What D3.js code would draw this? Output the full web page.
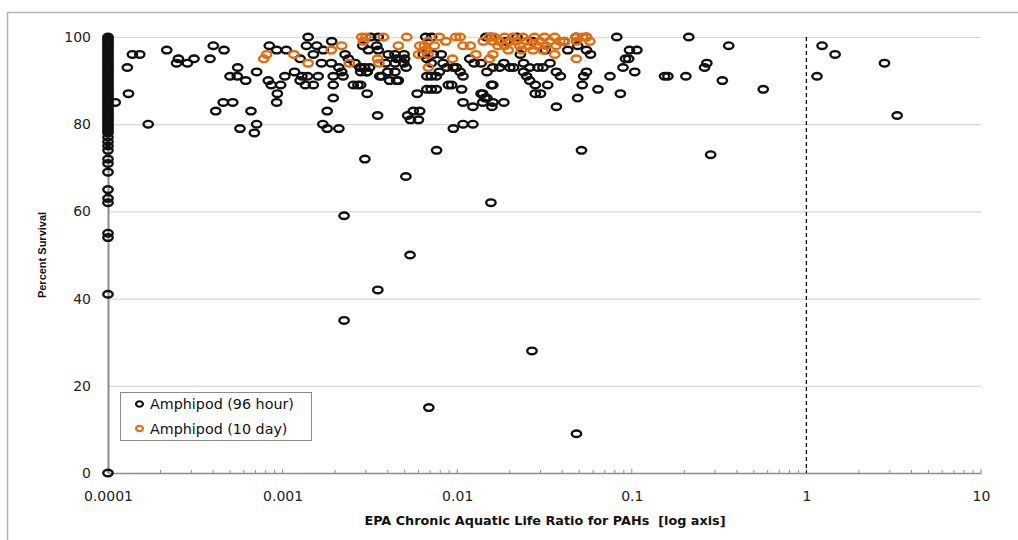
<!DOCTYPE html>
<html>
<head>
<meta charset="utf-8">
<script src="https://cdn.jsdelivr.net/npm/d3@7"></script>
<style>
  html, body { margin: 0; padding: 0; background: #fff; }
  svg { display: block; }
</style>
</head>
<body>
<svg id="chart" width="1018" height="540"></svg>
<script>
// ---------- DATA ----------
const seriesNames = ["Amphipod (96 hour)", "Amphipod (10 day)"];
const xTickValues = [0.0001, 0.001, 0.01, 0.1, 1, 10];
const xTickLabels = ["0.0001", "0.001", "0.01", "0.1", "1", "10"];
const yTickValues = [0, 20, 40, 60, 80, 100];
const thresholdRatio = 1;

// [EPA chronic aquatic life ratio, percent survival]
const amphipod96 = [
  [0.0001,100],[0.0001,99.5],[0.0001,99],[0.0001,98.5],[0.0001,98],[0.0001,97.5],[0.0001,97],[0.0001,96.5],[0.0001,96],[0.0001,95.5],[0.0001,95],
  [0.0001,94.5],[0.0001,94],[0.0001,93.5],[0.0001,93],[0.0001,92.5],[0.0001,92],[0.0001,91.5],[0.0001,91],[0.0001,90.5],[0.0001,90],
  [0.0001,89.5],[0.0001,89],[0.0001,88.5],[0.0001,88],[0.0001,87.5],[0.0001,87],[0.0001,86.5],[0.0001,86],[0.0001,85.5],[0.0001,85],
  [0.0001,84.5],[0.0001,84],[0.0001,83.5],[0.0001,83],[0.0001,82.5],[0.0001,82],[0.0001,81.5],[0.0001,81],[0.0001,80.5],[0.0001,80],
  [0.0001,79.5],[0.0001,79],[0.0001,78.5],[0.0001,78],[0.0001,77],[0.0001,76],[0.0001,75],[0.0001,74],
  [0.0001,72],[0.0001,71],[0.0001,69],[0.0001,65],[0.0001,63],[0.0001,62],[0.0001,55],[0.0001,54],[0.0001,41],[0.0001,0],
  [0.00011,85],
  [0.000129,93],[0.000138,96],[0.000152,96],[0.000131,87],[0.00017,80],[0.000217,97],[0.000253,95],[0.000247,94],
  [0.000285,94],[0.000311,95],[0.000384,95],[0.000401,98],[0.000462,97],[0.000553,93],[0.0005,91],[0.00055,91],
  [0.000615,90],[0.00071,92],[0.000457,85],[0.000518,85],[0.000414,83],[0.000659,83],[0.00057,79],[0.00071,80],
  [0.000689,78],[0.000839,98],[0.000925,97],[0.00105,97],[0.000828,90],[0.000861,89],[0.000975,89],[0.000933,87],
  [0.000925,85],[0.00103,91],
  [0.0014,100],[0.0032,100],[0.00353,100],[0.0066,100],[0.00714,100],
  [0.00137,98],[0.00157,98],[0.00191,99],[0.00288,98],[0.0031,97],[0.00346,98],[0.00353,97],[0.00171,97],
  [0.00228,96],[0.00238,95],[0.00126,95],[0.0015,96],[0.00167,94],[0.00277,93],[0.00303,92],
  [0.00403,96],[0.0044,96],[0.00496,96],[0.0039,94],[0.0044,94],[0.00495,94],[0.0045,95],[0.005,95],
  [0.0037,91],[0.004,92],[0.0044,92],[0.0041,90],[0.0045,90],[0.0051,93],
  [0.0064,96],[0.0073,96],[0.0081,96],[0.0067,95],[0.0071,94],[0.0083,94],[0.0087,93],[0.0095,93],[0.0079,92],
  [0.00117,92],[0.00129,91],[0.00139,91],[0.0016,91],[0.00126,90],[0.00135,89],[0.0015,89],[0.00195,91],
  [0.00218,92],[0.00222,91],[0.00195,89],[0.00254,89],[0.0027,89],[0.0028,89],[0.00195,86],[0.00305,87],
  [0.0028,92],[0.00305,92],[0.0036,91],[0.0046,90],
  [0.0018,83],[0.0017,80],[0.0018,79],[0.0021,79],[0.0035,82],[0.0052,82],[0.0056,83],[0.0061,83],[0.0054,81],
  [0.006,81],[0.0059,87],[0.0067,88],[0.0071,88],[0.0076,88],[0.0089,89],[0.0095,79],[0.0067,91],[0.0071,91],
  [0.0076,91],[0.0019,94],[0.0021,93],[0.0026,94],[0.0028,93],[0.00295,93],[0.00315,93],
  [0.0146,100],[0.0156,100],[0.048,100],[0.055,100],[0.082,100],
  [0.097,97],[0.107,97],[0.092,95],[0.096,95],[0.089,93],[0.104,92],[0.075,91],[0.064,88],[0.086,87],[0.049,86],
  [0.037,84],[0.052,89],[0.053,91],[0.055,92],[0.055,97],[0.058,96],[0.043,97],[0.049,98],[0.034,94],[0.037,92],
  [0.039,91],[0.033,89],[0.026,93],[0.029,93],[0.031,93],[0.024,92],[0.025,91],[0.026,90],[0.028,89],[0.028,87],
  [0.03,87],[0.023,96],[0.024,94],[0.016,93],[0.0175,93],[0.0185,94],[0.02,93],[0.021,93],[0.0148,92],[0.016,89],
  [0.014,87],[0.0144,86],[0.0148,86],[0.014,85],[0.016,85],[0.0185,85],[0.0158,84],[0.0123,84],[0.0108,85],
  [0.0106,88],[0.0108,91],[0.0104,92],[0.0099,93],[0.0118,95],[0.0125,94],[0.0137,94],[0.0093,89],[0.0108,80],
  [0.0123,80],[0.0137,87],[0.0157,89],
  [0.019,99],[0.022,100],[0.027,99],[0.032,97],[0.041,99],
  [0.212,100],[0.359,98],[0.261,93],[0.269,94],[0.204,91],[0.154,91],[0.161,91],[0.33,90],[0.566,88],
  [1.23,98],[1.46,96],[2.8,94],[1.15,91],[3.31,82],[0.283,73],
  [0.00296,72],[0.00762,74],[0.0515,74],[0.00508,68],[0.0156,62],[0.00225,59],[0.00537,50],[0.00351,42],
  [0.00225,35],[0.0268,28],[0.00688,15],[0.0482,9]
];

const amphipod10 = [
  [0.00078,95],[0.00081,96],
  [0.00116,96],[0.0014,94],[0.0019,97],[0.00218,98],[0.00241,94],[0.00284,100],[0.003,100],[0.0029,99],
  [0.00378,100],[0.0035,95],[0.00356,94],[0.0046,98],[0.00514,100],[0.0061,98],[0.0065,98],[0.0068,99],
  [0.0074,98],[0.006,96],[0.0066,97],[0.0068,96],[0.00683,93],[0.0079,100],[0.0086,99],[0.0094,95],
  [0.0098,100],[0.0104,100],[0.0108,98],
  [0.0128,96],[0.0141,99],[0.0153,100],[0.0163,100],[0.0187,100],[0.0208,100],[0.0238,100],[0.0277,100],
  [0.0316,100],[0.0362,100],[0.048,100],[0.0523,100],[0.055,100],
  [0.016,99],[0.0175,99],[0.02,99],[0.0218,99],[0.025,99],[0.0297,99],[0.0338,99],[0.0387,99],[0.0412,99],
  [0.0482,99],[0.0575,99],
  [0.0119,98],[0.0171,98],[0.0187,98],[0.0228,98],[0.0259,98],[0.0288,98],[0.0321,98],[0.0368,98],
  [0.0196,97],[0.0233,97],[0.0272,97],[0.031,97],
  [0.016,96],[0.0153,95],[0.0362,96],[0.0481,95]
];

// ---------- CHART ----------
const W = 1018, H = 540;
const plot = { left: 108, right: 981, top: 37, bottom: 473 };
const colors = ["#111111", "#E46C0A"];
const tickFont = "'DejaVu Sans', Verdana, sans-serif";

const svg = d3.select("#chart");

// outer frame
svg.append("rect")
  .attr("x", 7.5).attr("y", 12.5)
  .attr("width", W + 10).attr("height", H + 10)
  .attr("fill", "#fff").attr("stroke", "#b5b5b5").attr("stroke-width", 1.5);

const x = d3.scaleLog().domain([0.0001, 10]).range([plot.left, plot.right]);
const y = d3.scaleLinear().domain([0, 100]).range([plot.bottom, plot.top]);

// gridlines
svg.append("g").selectAll("line")
  .data(yTickValues.filter(v => v > 0))
  .join("line")
  .attr("x1", plot.left).attr("x2", plot.right)
  .attr("y1", d => y(d) + 0.5).attr("y2", d => y(d) + 0.5)
  .attr("stroke", "#d9d9d9").attr("stroke-width", 1.2);

// y axis
const yAxis = d3.axisLeft(y).tickValues(yTickValues).tickSize(0).tickPadding(17).tickFormat(d3.format("d"));
const gy = svg.append("g").attr("transform", `translate(${plot.left},0)`).call(yAxis);
gy.select(".domain").attr("stroke", "#8c8c8c").attr("stroke-width", 2);
gy.selectAll("text").attr("font-family", tickFont)
  .attr("font-size", 14).attr("fill", "#222");

// x axis (ticks point inward)
const minorTicks = [];
for (let e = -4; e < 1; e++) for (let m = 1; m <= 9; m++) minorTicks.push(m * Math.pow(10, e));
minorTicks.push(10);
const gx = svg.append("g").attr("transform", `translate(0,${plot.bottom})`);
gx.call(d3.axisBottom(x).tickValues(xTickValues).tickSize(0).tickPadding(18)
  .tickFormat((d, i) => xTickLabels[i]));
gx.select(".domain").attr("stroke", "#8c8c8c").attr("stroke-width", 1.5);
gx.selectAll("text").attr("font-family", tickFont)
  .attr("font-size", 14).attr("fill", "#222");
gx.append("g").selectAll("line").data(minorTicks).join("line")
  .attr("x1", d => x(d)).attr("x2", d => x(d))
  .attr("y1", 0).attr("y2", d => xTickValues.includes(d) ? -4 : -3)
  .attr("stroke", "#8c8c8c").attr("stroke-width", 1);

// threshold dashed line at ratio = 1
svg.append("line")
  .attr("x1", x(thresholdRatio)).attr("x2", x(thresholdRatio))
  .attr("y1", y(100)).attr("y2", y(0))
  .attr("stroke", "#000").attr("stroke-width", 1.3).attr("stroke-dasharray", "4,3");

// points
const series = [amphipod96, amphipod10];
series.forEach((data, i) => {
  svg.append("g").selectAll("ellipse").data(data).join("ellipse")
    .attr("cx", d => x(d[0])).attr("cy", d => y(d[1]))
    .attr("rx", 4.7).attr("ry", 3.3)
    .attr("fill", "none").attr("stroke", colors[i]).attr("stroke-width", 2.4);
});

// legend
const lg = svg.append("g");
lg.append("rect").attr("x", 120.5).attr("y", 392.5).attr("width", 191).attr("height", 48)
  .attr("fill", "#fff").attr("stroke", "#8c8c8c").attr("stroke-width", 1);
seriesNames.forEach((name, i) => {
  const cy = 404 + i * 24.5;
  lg.append("ellipse").attr("cx", 139.5).attr("cy", cy).attr("rx", 3.5).attr("ry", 2.7)
    .attr("fill", "none").attr("stroke", colors[i]).attr("stroke-width", 2.1);
  lg.append("text").attr("x", 150).attr("y", cy + 5)
    .attr("font-family", tickFont).attr("font-size", 14.3)
    .attr("fill", "#111").text(name);
});

// axis titles
svg.append("text")
  .attr("transform", "translate(46,255) rotate(-90)")
  .attr("text-anchor", "middle")
  .attr("font-family", "'Liberation Sans Narrow', 'Arial Narrow', sans-serif")
  .attr("font-size", 11).attr("font-weight", "bold").attr("fill", "#111")
  .text("Percent Survival");

svg.append("text")
  .attr("x", 545).attr("y", 525)
  .attr("text-anchor", "middle")
  .attr("xml:space", "preserve")
  .style("white-space", "pre")
  .attr("font-family", tickFont)
  .attr("font-size", 12.8).attr("font-weight", "bold").attr("fill", "#111")
  .text("EPA Chronic Aquatic Life Ratio for PAHs  [log axis]");
</script>
</body>
</html>
